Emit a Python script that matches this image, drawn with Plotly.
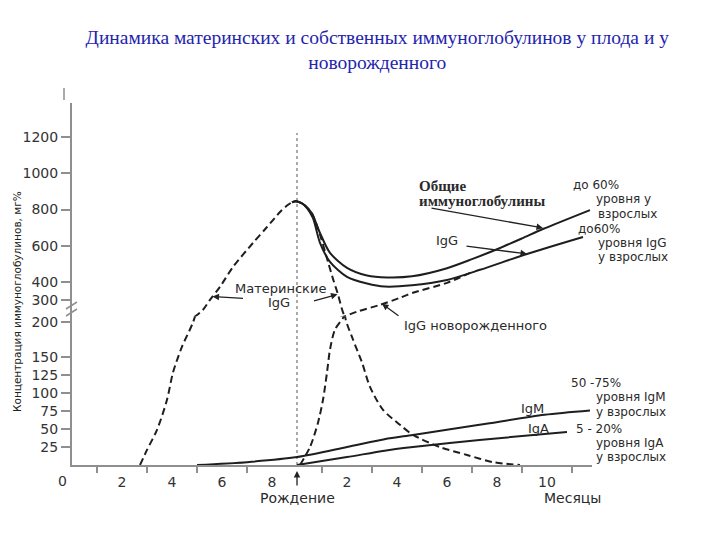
import plotly.graph_objects as go

# x: months counted from conception (birth = month 9); y: mg%
BIRTH = 9

mat_t = [2.72, 3.0, 3.4, 3.8, 4.04, 4.4, 4.84, 5.24, 5.52, 5.92, 6.44, 7.24, 7.8, 8.32, 8.6, 8.8, 8.96,
         9.2, 9.4, 9.6, 9.92, 10.24, 10.44, 10.62, 10.92, 11.24, 11.6, 11.92, 12.44, 13.12, 13.64, 14.72,
         15.8, 16.84, 17.92]
mat_v = [0, 21, 49, 91, 129, 165, 199, 245, 300, 372, 482, 615, 703, 786, 822, 840, 846,
         834, 812, 778, 660, 510, 416, 339, 207, 175, 143, 109, 77, 56, 42, 25,
         14, 4, 0]

tot_t = [8.8, 8.96, 9.2, 9.4, 9.6, 9.92, 10.32, 11.0, 11.8, 12.6, 13.6, 15.0, 16.0, 17.0, 18.0, 18.84, 20.72]
tot_v = [840, 846, 834, 812, 778, 670, 560, 477, 435, 424, 430, 475, 525, 580, 640, 692, 797]

igg_t = [8.8, 8.96, 9.2, 9.4, 9.64, 9.92, 10.32, 11.0, 11.8, 12.5, 13.6, 15.0, 16.32, 18.2, 20.44]
igg_v = [840, 846, 834, 808, 752, 615, 510, 427, 390, 373, 380, 410, 466, 554, 648]

nb_t = [9.12, 9.52, 9.84, 10.04, 10.2, 10.32, 10.52, 10.84, 11.4, 12.32, 13.12, 13.64, 15.0, 15.92]
nb_v = [0, 25, 59, 91, 129, 161, 189, 205, 234, 272, 311, 339, 394, 449]

igm_t = [5.0, 7.0, 9.0, 11.0, 12.5, 13.64, 16.3, 18.9, 20.72]
igm_v = [0, 4, 11, 25, 36, 42, 56, 70, 76]

iga_t = [9.0, 11.0, 12.5, 13.64, 16.3, 19.8]
iga_v = [0, 11, 20, 25, 35, 46]

x_tick_pos = [2, 4, 6, 8, 11, 13, 15, 17, 19]
x_tick_txt = ["2", "4", "6", "8", "2", "4", "6", "8", "10"]
x_minor_pos = [1, 3, 5, 7, 10, 12, 14, 16, 18, 20]
y_low_ticks = [25, 50, 75, 100, 125, 150, 200]
y_up_ticks = [300, 400, 600, 800, 1000, 1200]

BREAK = 207
LOW_RANGE = [0, BREAK]
UP_RANGE = [BREAK, 1390]
SPLIT = 0.41

# layout helpers (plot area: x 72..592 px, y 103..465 px)
L, R, T, B = 72, 592, 103, 465
def px(x):
    return (x - L) / (R - L)
def py(y):
    return (B - y) / (B - T)

INK = "#1e1e1e"
GRAY = "#8f8f8f"
SANS = "DejaVu Sans"

fig = go.Figure()

def add(t, v, dashed, axes=("y", "y2")):
    for ax in axes:
        fig.add_trace(go.Scatter(
            x=t, y=v, mode="lines", yaxis=ax, showlegend=False, hoverinfo="skip",
            line=dict(color=INK, width=2, shape="spline", smoothing=0.8,
                      dash="7px,4px" if dashed else "solid")))

add(mat_t, mat_v, True)
add(nb_t, nb_v, True)
add(tot_t, tot_v, False, ("y2",))
add(igg_t, igg_v, False, ("y2",))
add(igm_t, igm_v, False, ("y",))
add(iga_t, iga_v, False, ("y",))

tickfont = dict(family=SANS, size=14, color="#333")

fig.update_layout(
    width=720, height=540,
    margin=dict(l=L, r=720 - R, t=T, b=540 - B),
    paper_bgcolor="white", plot_bgcolor="white",
    title=dict(text="Динамика материнских и собственных иммуноглобулинов у плода и у<br>новорожденного",
               x=0.524, xanchor="center", y=1 - 43.5 / 540, yanchor="middle", xref="container", yref="container",
               font=dict(family="Liberation Serif", size=19.5, color="#2424ad")),
    xaxis=dict(range=[0, 20.8], anchor="y", showline=True, linecolor=GRAY, linewidth=2,
               showgrid=False, zeroline=False, tickmode="array", tickvals=x_tick_pos, ticktext=x_tick_txt,
               ticks="outside", ticklen=3, tickcolor="rgba(0,0,0,0)", tickfont=tickfont,
               minor=dict(tickmode="array", tickvals=x_minor_pos, ticks="outside", ticklen=6,
                          tickwidth=1.5, tickcolor=GRAY)),
    yaxis=dict(range=LOW_RANGE, domain=[0, SPLIT], anchor="x", showline=True, linecolor=GRAY, linewidth=2,
               showgrid=False, zeroline=False, tickmode="array", tickvals=y_low_ticks,
               ticks="outside", ticklen=9, tickwidth=1.5, tickcolor=GRAY, tickfont=tickfont),
    yaxis2=dict(range=UP_RANGE, domain=[SPLIT, 1], anchor="x", showline=True, linecolor=GRAY, linewidth=2,
                showgrid=False, zeroline=False, tickmode="array", tickvals=y_up_ticks,
                ticks="outside", ticklen=9, tickwidth=1.5, tickcolor=GRAY, tickfont=tickfont),
)

# birth line
fig.add_shape(type="line", xref="x", yref="paper", x0=BIRTH, x1=BIRTH, y0=0, y1=py(133),
              line=dict(color=GRAY, width=1.5, dash="dot"), layer="below")
# axis break marks
for yy in (309, 316):
    fig.add_shape(type="line", xref="paper", yref="paper", x0=px(66), x1=px(77), y0=py(yy), y1=py(yy - 7),
                  line=dict(color=GRAY, width=1.5))
fig.add_shape(type="line", xref="paper", yref="paper", x0=px(64), x1=px(64), y0=py(100), y1=py(88),
              line=dict(color=GRAY, width=1.5))

def txt(x, y, s, anchor="left", size=12, family=SANS, bold=False, color="#2a2a2a", angle=0):
    if bold:
        s = "<b>" + s + "</b>"
    fig.add_annotation(x=px(x), y=py(y), xref="paper", yref="paper", text=s, showarrow=False,
                       xanchor=anchor, yanchor="middle", textangle=angle, borderpad=0,
                       font=dict(family=family, size=size, color=color))

txt(418, 186, "Общие", family="Liberation Serif", size=15, bold=True)
txt(418, 201, "иммуноглобулины", family="Liberation Serif", size=15, bold=True)
txt(572, 184.5, "до 60%")
txt(595, 199, "уровня у")
txt(597, 213.5, "взрослых")
txt(577, 229, "до60%")
txt(597, 243, "уровня IgG")
txt(597, 257, "у взрослых")
txt(435, 240, "IgG", size=13)
txt(280, 288, "Материнские", anchor="center", size=13)
txt(279, 302, "IgG", anchor="center", size=13)
txt(403, 325, "IgG новорожденного", size=13)
txt(520, 408, "IgM", size=13)
txt(527, 428, "IgA", size=13)
txt(570, 382.5, "50 -75%")
txt(595, 397, "уровня IgM")
txt(595, 411.5, "у взрослых")
txt(575, 429, "5 - 20%")
txt(595, 443, "уровня IgA")
txt(595, 457, "у взрослых")
txt(297, 498, "Рождение", anchor="center", size=14)
txt(543, 498, "Месяцы", size=14)
txt(62, 481, "0", anchor="center", size=14, color="#333")
txt(17, 302, "Концентрация иммуноглобулинов, мг%", anchor="center", size=10.5, angle=-90, color="#222")

def arrow(x, y, yref, ax, ay):
    fig.add_annotation(x=x, y=y, xref="x", yref=yref, ax=ax, ay=ay, text="", showarrow=True,
                       arrowhead=2, arrowsize=1, arrowwidth=1.3, arrowcolor="#222", standoff=0)

arrow(18.84, 698, "y2", -113, -20)
arrow(18.2, 554, "y2", -62, -8)
arrow(5.62, 318, "y2", 32, 2)
arrow(10.62, 330, "y2", -25, 7)
arrow(12.4, 278, "y2", 18, 13)
fig.add_annotation(x=BIRTH, y=py(471), xref="x", yref="paper", ax=0, ay=16, text="", showarrow=True,
                   arrowhead=2, arrowsize=1, arrowwidth=1.3, arrowcolor="#222", standoff=0)

fig.write_html("out.html", config={"displayModeBar": False},
               post_script="document.body.style.margin='0';document.body.style.padding='0';")
